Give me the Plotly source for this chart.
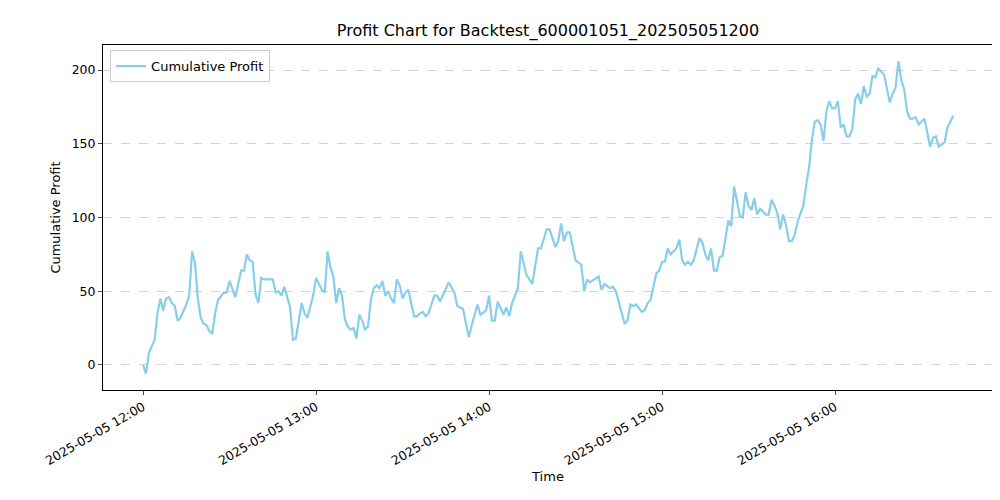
import pandas as pd
import plotly.graph_objects as go

# minutes after 2025-05-05 12:00 and cumulative profit
minutes = [0, 1, 2, 4, 5, 6, 7, 8, 9, 10, 11, 12, 13, 15, 16, 17, 18, 19, 20, 21, 22, 23, 24, 25, 26, 28, 29, 30,
           32, 34, 35, 36, 37, 38, 39, 40, 41, 42, 45, 46, 47, 48, 49, 51, 52, 53, 55, 56, 57, 58, 59, 60,
           62, 63, 64, 65, 66, 67, 68, 69, 70, 71, 72, 73, 74, 75, 76, 77, 78, 79, 80, 81, 82, 83, 84, 85,
           86, 87, 88, 89, 90, 91, 92, 94, 95, 96, 97, 98, 99, 101, 102, 103, 104, 106, 108, 109, 110, 111,
           112, 113, 114, 115, 116, 117, 119, 120, 121, 122, 123, 125, 126, 127, 128, 130, 131, 133, 135,
           137, 138, 140, 141, 143, 144, 145, 146, 147, 148, 150, 152, 153, 154, 155, 157, 158, 159, 160,
           162, 163, 164, 165, 167, 168, 169, 170, 171, 173, 174, 175, 176, 178, 179, 180, 181, 182, 183,
           185, 186, 187, 188, 189, 190, 191, 193, 194, 195, 196, 197, 198, 199, 200, 201, 203, 204, 205,
           207, 208, 209, 210, 211, 212, 213, 214, 216, 217, 218, 219, 220, 221, 222, 223, 224, 225, 226,
           227, 229, 230, 231, 232, 233, 234, 235, 236, 237, 238, 239, 240, 241, 242, 243, 244, 245, 246,
           247, 248, 249, 250, 251, 252, 253, 254, 255, 256, 257, 259, 260, 261, 262, 263, 264, 265, 266,
           267, 268, 269, 271, 273, 274, 275, 276, 278, 279, 281]
profit = [0, -6, 8, 17, 35, 45, 37, 45, 46, 42, 40, 30, 32, 41, 47, 77, 69, 45, 32, 28, 27, 23, 21, 35, 44, 49, 49, 57,
          46, 64, 64, 75, 71, 70, 48, 42, 59, 58, 58, 49, 50, 47, 53, 39, 17, 18, 42, 35, 32, 39, 47, 59,
          51, 49, 77, 66, 60, 42, 52, 47, 31, 26, 24, 25, 18, 34, 30, 24, 26, 44, 52, 54, 52, 57, 47, 50,
          45, 42, 58, 54, 45, 49, 51, 33, 33, 35, 36, 33, 35, 47, 47, 43, 47, 56, 49, 40, 39, 38,
          28, 19, 27, 35, 41, 34, 37, 47, 30, 30, 43, 34, 39, 33, 42, 52, 77, 61, 55,
          79, 79, 92, 92, 80, 84, 96, 84, 90, 90, 71, 68, 50, 58, 56, 59, 60, 51, 55,
          52, 53, 50, 42, 28, 30, 41, 40, 41, 36, 37, 42, 44, 62, 64, 70, 70, 79, 75,
          79, 85, 71, 68, 70, 68, 71, 86, 83, 75, 71, 79, 64, 64, 73, 74, 98, 94, 121,
          101, 100, 117, 108, 105, 113, 102, 106, 102, 102, 112, 108, 103, 92, 102, 95, 84, 84, 88,
          97, 108, 122, 134, 153, 165, 166, 163, 152, 172, 179, 174, 174, 179, 161, 163, 155, 155, 160,
          180, 184, 177, 189, 182, 184, 196, 195, 201, 199, 197, 178, 184, 188, 206, 193, 187, 172, 167,
          167, 168, 163, 167, 148, 154, 155, 148, 151, 161, 169]

start = pd.Timestamp("2025-05-05 12:00")
times = start + pd.to_timedelta(minutes, unit="min")
tick_vals = [start + pd.Timedelta(hours=h) for h in range(5)]
tick_text = [t.strftime("%Y-%m-%d %H:%M") for t in tick_vals]

fig = go.Figure()
fig.add_trace(go.Scatter(x=times, y=profit, mode="lines", name="Cumulative Profit",
                         line=dict(color="skyblue", width=2.2)))

fig.update_layout(
    width=1000, height=500,
    paper_bgcolor="white", plot_bgcolor="white",
    font=dict(family="DejaVu Sans", size=12, color="black"),
    title=dict(text="Profit Chart for Backtest_600001051_202505051200", x=0.54, xanchor="center",
               y=0.955, yanchor="middle", font=dict(size=16)),
    margin=dict(l=95, r=15, t=37, b=118, autoexpand=False),
    showlegend=True,
    legend=dict(x=0.008, y=0.985, xanchor="left", yanchor="top", bgcolor="white",
                bordercolor="#cccccc", borderwidth=1, font=dict(size=13)),
)
fig.update_xaxes(
    range=[start - pd.Timedelta(minutes=13.9), start + pd.Timedelta(minutes=294.8)],
    tickvals=tick_vals, ticktext=tick_text, tickangle=-30, tickfont=dict(size=12.5),
    ticks="outside", ticklen=4, showgrid=False, showline=True, linecolor="black", mirror=True,
    title=dict(text="Time", font=dict(size=13), standoff=4), zeroline=False, automargin=False,
)
fig.update_yaxes(
    range=[-17, 217], tickvals=[0, 50, 100, 150, 200], tickfont=dict(size=12.5),
    ticks="outside", ticklen=4, showline=True, linecolor="black", mirror=True,
    showgrid=True, gridcolor="#d3d3d3", griddash="dash", zeroline=False, automargin=False,
    title=dict(text="Cumulative Profit", font=dict(size=13), standoff=8),
)

fig.write_html("out.html")
